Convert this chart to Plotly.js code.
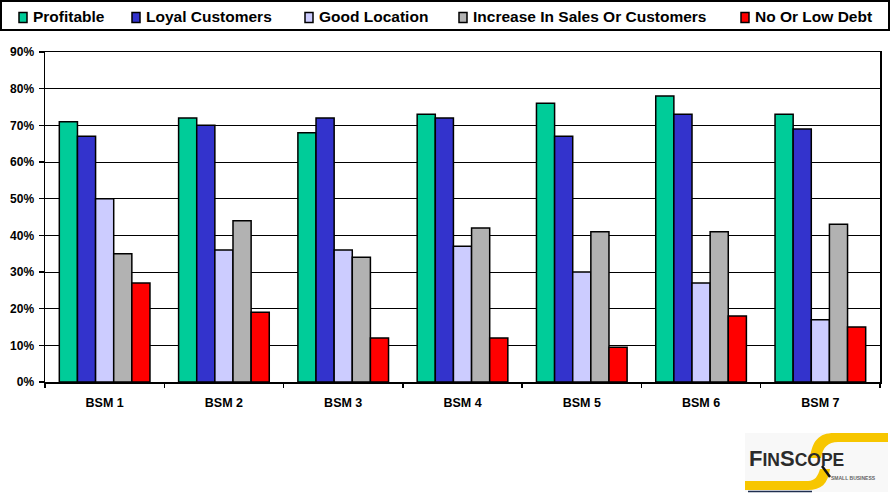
<!DOCTYPE html>
<html>
<head>
<meta charset="utf-8">
<script src="https://cdn.plot.ly/plotly-3.0.1.min.js"></script>
<style>html,body{margin:0;padding:0;background:#fff;}#chart{width:891px;height:499px;}</style>
</head>
<body>
<div id="chart"></div>
<script>
// ---- data (values in %) ----
const categories = ['BSM 1', 'BSM 2', 'BSM 3', 'BSM 4', 'BSM 5', 'BSM 6', 'BSM 7'];
const profitable = [71, 72, 68, 73, 76, 78, 73];
const loyalCustomers = [67, 70, 72, 72, 67, 73, 69];
const goodLocation = [50, 36, 36, 37, 30, 27, 17];
const increaseInSales = [35, 44, 34, 42, 41, 41, 43];
const noOrLowDebt = [27, 19, 12, 12, 9.5, 18, 15];
const seriesNames = ['Profitable', 'Loyal Customers', 'Good Location', 'Increase In Sales Or Customers', 'No Or Low Debt'];
const yTickVals = [0, 10, 20, 30, 40, 50, 60, 70, 80, 90];

const seriesValues = [profitable, loyalCustomers, goodLocation, increaseInSales, noOrLowDebt];
const colors = ['#00CC99', '#3333CC', '#CCCCFF', '#B2B2B2', '#FF0000'];

const FONT = '"Liberation Sans", Arial, sans-serif';

const traces = seriesValues.map((vals, i) => ({
  type: 'bar',
  name: seriesNames[i],
  x: categories,
  y: vals,
  marker: { color: colors[i], line: { color: '#000', width: 1.5 } },
  hoverinfo: 'skip'
}));

// plot area in pixels: x 45..880, y 52..382
const L = 45, R = 880, T = 52, B = 382;
const px = x => (x - L) / (R - L);
const py = y => (B - y) / (B - T);

const shapes = [
  // legend frame
  { type: 'rect', xref: 'paper', yref: 'paper', x0: px(1), x1: px(889), y0: py(30), y1: py(1),
    line: { color: '#000', width: 2 }, fillcolor: 'rgba(0,0,0,0)', layer: 'above' },
  // logo background
  { type: 'rect', xref: 'paper', yref: 'paper', x0: px(745), x1: px(888), y0: py(492), y1: py(433),
    line: { width: 0 }, fillcolor: '#F8F8F8', layer: 'above' },
  // logo top-right yellow swoosh
  { type: 'path', xref: 'paper', yref: 'paper', layer: 'above',
    path: 'M ' + px(810) + ',' + py(458) +
          ' C ' + px(812) + ',' + py(441) + ' ' + px(819) + ',' + py(433) + ' ' + px(834) + ',' + py(433) +
          ' L ' + px(888) + ',' + py(433) + ' L ' + px(888) + ',' + py(442) + ' L ' + px(838) + ',' + py(442) +
          ' C ' + px(828) + ',' + py(442) + ' ' + px(823) + ',' + py(447) + ' ' + px(821) + ',' + py(458) + ' Z',
    fillcolor: '#F7C600', line: { width: 0 } },
  // logo bottom-left yellow swoosh
  { type: 'path', xref: 'paper', yref: 'paper', layer: 'above',
    path: 'M ' + px(745) + ',' + py(481) + ' L ' + px(808) + ',' + py(481) +
          ' C ' + px(815) + ',' + py(481) + ' ' + px(818) + ',' + py(476) + ' ' + px(820) + ',' + py(469) +
          ' L ' + px(830) + ',' + py(469) +
          ' C ' + px(828) + ',' + py(484) + ' ' + px(821) + ',' + py(490) + ' ' + px(808) + ',' + py(490) +
          ' L ' + px(745) + ',' + py(490) + ' Z',
    fillcolor: '#F7C600', line: { width: 0 } },
  // navy underline
  { type: 'line', xref: 'paper', yref: 'paper', layer: 'above',
    x0: px(748), x1: px(812), y0: py(491.5), y1: py(491.5), line: { color: '#1F2F4F', width: 1.5 } },
  // magnifier handle
  { type: 'line', xref: 'paper', yref: 'paper', layer: 'above',
    x0: px(822), x1: px(830), y0: py(466), y1: py(477), line: { color: '#111', width: 2.5 } }
];

// legend (manual, to match the original spacing)
const legendMarkerLeft = [19, 132, 305, 459, 741];
shapes.push(...seriesNames.map((n, i) => ({
  type: 'rect', xref: 'paper', yref: 'paper', layer: 'above',
  x0: px(legendMarkerLeft[i]), x1: px(legendMarkerLeft[i] + 8),
  y0: py(22.5), y1: py(12.5),
  fillcolor: colors[i], line: { color: '#000', width: 1.5 }
})));

const annotations = seriesNames.map((n, i) => ({
  xref: 'paper', yref: 'paper', x: px(legendMarkerLeft[i] + 12), y: py(16.5),
  xanchor: 'left', yanchor: 'middle', showarrow: false, text: n,
  font: { family: FONT, size: 15.5, color: '#000', weight: 700 }
}));

annotations.push(
  { xref: 'paper', yref: 'paper', x: px(747), y: py(458), xanchor: 'left', yanchor: 'middle', showarrow: false,
    text: 'F<span style="font-size:17.5px">IN</span>S<span style="font-size:17.5px">COPE</span>',
    font: { family: FONT, size: 22, color: '#2B2B2B', weight: 700 } },
  { xref: 'paper', yref: 'paper', x: px(853), y: py(477.5), xanchor: 'center', yanchor: 'middle', showarrow: false,
    text: 'SMALL BUSINESS', font: { family: FONT, size: 5, color: '#666', weight: 700 } }
);

const layout = {
  width: 891, height: 499, autosize: false,
  margin: { l: L, r: 891 - R, t: T, b: 499 - B, pad: 0, autoexpand: false },
  paper_bgcolor: '#FFFFFF', plot_bgcolor: '#FFFFFF',
  font: { family: FONT, size: 12, color: '#000', weight: 700 },
  barmode: 'group', bargap: 0.24, bargroupgap: 0,
  showlegend: false,
  xaxis: {
    type: 'category', automargin: false, fixedrange: true,
    showline: true, linecolor: '#000', linewidth: 1.5, mirror: true,
    ticks: 'outside', tickson: 'boundaries', ticklen: 4, tickcolor: '#000', tickwidth: 1.5,
    ticklabelstandoff: 8,
    tickfont: { family: FONT, size: 12.5, color: '#000', weight: 700 },
    showgrid: false
  },
  yaxis: {
    range: [0, 90], automargin: false, fixedrange: true,
    tickvals: yTickVals, ticktext: yTickVals.map(v => v + '%'),
    showline: true, linecolor: '#000', linewidth: 1.5, mirror: true,
    ticks: 'outside', ticklen: 5, tickcolor: '#000', tickwidth: 1.5,
    ticklabelstandoff: 2,
    tickfont: { family: FONT, size: 12, color: '#000', weight: 700 },
    showgrid: true, gridcolor: '#000', gridwidth: 1, zeroline: false
  },
  shapes: shapes,
  annotations: annotations
};

Plotly.newPlot('chart', traces, layout, { displayModeBar: false, staticPlot: true });
</script>
</body>
</html>
